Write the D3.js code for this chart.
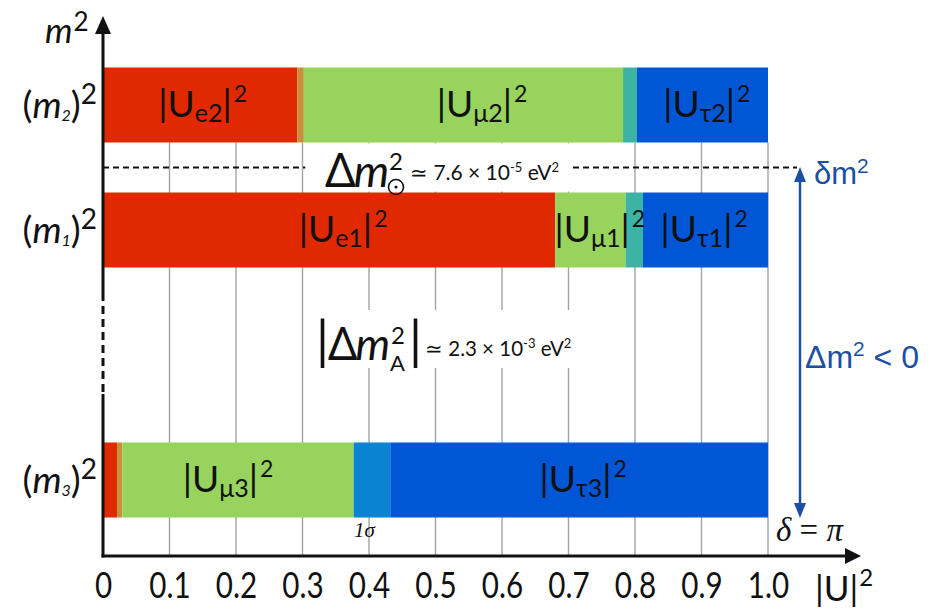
<!DOCTYPE html>
<html><head><meta charset="utf-8">
<script src="https://cdn.jsdelivr.net/npm/d3@7"></script>
<style>body{margin:0;background:#fff}svg{display:block}</style>
</head><body><svg id="c" width="933" height="612"></svg>
<script>
// ---------- data ----------
const tickValues = [0,0.1,0.2,0.3,0.4,0.5,0.6,0.7,0.8,0.9,1.0];
const tickLabels = ["0","0.1","0.2","0.3","0.4","0.5","0.6","0.7","0.8","0.9","1.0"];
const states = ["m2","m1","m3"];
const stateIndex = ["2","1","3"];
const massLevel = [3, 2, 0];               // schematic m^2 ordering (inverted hierarchy)
const segKeys = ["e","e-mu","mu","mu-tau","tau"];
const widths_m2 = [0.292, 0.010, 0.480, 0.021, 0.197];
const widths_m1 = [0.680, 0.000, 0.106, 0.026, 0.188];
const widths_m3 = [0.021, 0.008, 0.348, 0.055, 0.568];
const labelFlavour = ["e","μ","τ","e","μ","τ","μ","τ"];
const labelState   = [0,0,0,1,1,1,2,2];
const labelAt      = [0.150,0.570,0.908,0.361,0.747,0.904,0.188,0.722];

// ---------- layout ----------
const svg = d3.select("#c");
const x = d3.scaleLinear().domain([0,1]).range([103,768]);
const y = d3.scaleLinear().domain([0,3]).range([480,105]);
const halfBar = 0.3;
const axisY = 556;
const ink = "#111";
const colors = {"e":"#e02900","e-mu":"#c6913b","mu":"#98d35d","mu-tau":"#3db3a5","tau":"#0056d5"};
const m3Band = "#0b83d3";
const FONT = "Lato, 'Noto Sans', sans-serif";
const GREEK = "'Noto Sans', sans-serif";

// gridlines
svg.append("g").selectAll("line").data(tickValues.slice(1)).join("line")
  .attr("x1",d=>x(d)).attr("x2",d=>x(d))
  .attr("y1",y(massLevel[0]-halfBar)).attr("y2",axisY)
  .attr("stroke","#a3a3a3").attr("stroke-width",1.4);

// dashed solar splitting line
const ySol = y((massLevel[0]+massLevel[1])/2);
svg.append("line").attr("x1",x(0)).attr("x2",797).attr("y1",ySol).attr("y2",ySol)
  .attr("stroke",ink).attr("stroke-width",2).attr("stroke-dasharray","6,4");

// white backgrounds behind annotations
svg.append("rect").attr("x",x(0.302)+1.5).attr("y",y(massLevel[0]-halfBar)+1)
  .attr("width",572-(x(0.302)+1.5)).attr("height",y(massLevel[1]+halfBar)-y(massLevel[0]-halfBar)-2).attr("fill","#fff");
svg.append("rect").attr("x",310).attr("y",310).attr("width",290).attr("height",58).attr("fill","#fff");

// bars
const allWidths = [widths_m2, widths_m1, widths_m3];
states.forEach((s,i)=>{
  const ends = d3.cumsum(allWidths[i]);
  const segs = allWidths[i].map((w,k)=>({k:segKeys[k], x0:ends[k]-w, x1:ends[k]})).filter(d=>d.x1>d.x0);
  svg.append("g").selectAll("rect").data(segs).join("rect")
    .attr("x",d=>x(d.x0)).attr("width",d=>x(d.x1)-x(d.x0))
    .attr("y",y(massLevel[i]+halfBar)).attr("height",y(massLevel[i]-halfBar)-y(massLevel[i]+halfBar))
    .attr("fill",d=>(s==="m3"&&d.k==="mu-tau")?m3Band:colors[d.k]);
});

// bar labels |U_{a i}|^2
labelAt.forEach((v,j)=>{
  const si = labelState[j];
  const t = svg.append("text").attr("x",x(v)).attr("y",y(massLevel[si])+12)
    .attr("text-anchor","middle").attr("font-family",FONT).attr("fill",ink).attr("font-size",37);
  t.append("tspan").text("|U");
  t.append("tspan").attr("font-size",25).attr("dy",5).text(labelFlavour[j]+stateIndex[si]);
  t.append("tspan").attr("dy",-5).text("|");
  t.append("tspan").attr("font-size",23).attr("dy",-15).attr("dx",2).text("2");
});

// y axis (with break)
const yAxisTop = 33, brk0 = 293, brk1 = 394;
svg.append("line").attr("x1",x(0)).attr("x2",x(0)).attr("y1",yAxisTop).attr("y2",brk0).attr("stroke",ink).attr("stroke-width",3);
svg.append("line").attr("x1",x(0)).attr("x2",x(0)).attr("y1",brk0).attr("y2",brk1).attr("stroke",ink).attr("stroke-width",3).attr("stroke-dasharray","8,5");
svg.append("line").attr("x1",x(0)).attr("x2",x(0)).attr("y1",brk1).attr("y2",axisY+1.5).attr("stroke",ink).attr("stroke-width",3);
svg.append("path").attr("d",`M${x(0)-8},${yAxisTop+1}L${x(0)},16L${x(0)+8},${yAxisTop+1}Z`).attr("fill",ink);

// x axis
svg.append("line").attr("x1",x(0)-1.5).attr("x2",846).attr("y1",axisY).attr("y2",axisY).attr("stroke",ink).attr("stroke-width",3);
svg.append("path").attr("d",`M845,${axisY-8}L861,${axisY}L845,${axisY+8}Z`).attr("fill",ink);
const xAxis = d3.axisBottom(x).tickValues(tickValues).tickFormat((d,i)=>tickLabels[i]).tickSize(0).tickPadding(0);
const gx = svg.append("g").attr("transform",`translate(0,${axisY})`).call(xAxis);
gx.select(".domain").remove();
gx.selectAll("text").attr("font-family",FONT).attr("font-size",37).attr("fill",ink)
  .attr("y",42).attr("dy",null).attr("transform","scale(0.8,1)");
// |U|^2 axis title
const ut = svg.append("text").attr("x",815).attr("y",601).attr("font-family",FONT).attr("font-size",35).attr("fill",ink);
ut.append("tspan").text("|U|");
ut.append("tspan").attr("font-size",24).attr("dy",-15).attr("dx",1).text("2");

// m^2 axis title
const mt = svg.append("text").attr("x",45).attr("y",43).attr("font-family",FONT).attr("fill",ink);
mt.append("tspan").attr("font-size",35).attr("font-style","italic").text("m");
mt.append("tspan").attr("font-size",26).attr("dy",-12).attr("dx",1).text("2");

// state labels (m_i)^2
states.forEach((s,i)=>{
  const t = svg.append("text").attr("x",97).attr("y",y(massLevel[i])+13)
    .attr("text-anchor","end").attr("font-family",FONT).attr("fill",ink).attr("font-size",37);
  t.append("tspan").text("(");
  t.append("tspan").attr("font-style","italic").text("m");
  t.append("tspan").attr("font-style","italic").attr("font-size",16).attr("dy",3).text(stateIndex[i]);
  t.append("tspan").attr("dy",-3).text(")");
  t.append("tspan").attr("font-size",28).attr("dy",-14).text("2");
});

// solar annotation
const sol = svg.append("text").attr("x",325).attr("y",187).attr("fill",ink);
sol.append("tspan").attr("font-family",GREEK).attr("font-size",48).text("Δ");
sol.append("tspan").attr("font-family",FONT).attr("font-style","italic").attr("font-size",45).attr("dx",-2).text("m");
svg.append("text").attr("x",389).attr("y",170).attr("font-family",FONT).attr("font-size",24).attr("fill",ink).text("2");
svg.append("circle").attr("cx",396).attr("cy",187).attr("r",7.5).attr("fill","none").attr("stroke",ink).attr("stroke-width",1.6);
svg.append("circle").attr("cx",396).attr("cy",187).attr("r",1.6).attr("fill",ink);
const st = svg.append("text").attr("x",410).attr("y",180).attr("font-family",FONT).attr("font-size",21).attr("fill",ink);
st.append("tspan").text("≃ 7.6 × 10");
st.append("tspan").attr("font-size",13).attr("dy",-8).text("-5");
st.append("tspan").attr("dy",8).text(" eV");
st.append("tspan").attr("font-size",13).attr("dy",-8).text("2");

// atmospheric annotation
const atm = svg.append("text").attr("x",316).attr("y",359).attr("fill",ink);
atm.append("tspan").attr("font-family",FONT).attr("font-size",52).text("|");
atm.append("tspan").attr("font-family",GREEK).attr("font-size",46).attr("dx",-1).attr("dy",1).text("Δ");
atm.append("tspan").attr("font-family",FONT).attr("font-style","italic").attr("font-size",44).attr("dx",-2).text("m");
svg.append("text").attr("x",391).attr("y",344).attr("font-family",FONT).attr("font-size",24).attr("fill",ink).text("2");
svg.append("text").attr("x",390).attr("y",371).attr("font-family",FONT).attr("font-size",22).attr("fill",ink).text("A");
svg.append("text").attr("x",409).attr("y",359).attr("font-family",FONT).attr("font-size",52).attr("fill",ink).text("|");
const at = svg.append("text").attr("x",425).attr("y",356).attr("font-family",FONT).attr("font-size",20.5).attr("fill",ink);
at.append("tspan").text("≃ 2.3 × 10");
at.append("tspan").attr("font-size",13).attr("dy",-8).text("-3");
at.append("tspan").attr("dy",8).text(" eV");
at.append("tspan").attr("font-size",13).attr("dy",-8).text("2");

// right-hand blue arrow and labels
const blue = "#1c4fa4";
svg.append("line").attr("x1",800).attr("x2",800).attr("y1",180).attr("y2",505).attr("stroke",blue).attr("stroke-width",2.5);
svg.append("path").attr("d","M794,182L800,167L806,182Z").attr("fill",blue);
svg.append("path").attr("d","M794,503L800,518L806,503Z").attr("fill",blue);
const dm = svg.append("text").attr("x",814).attr("y",184).attr("font-family","'Liberation Sans', Arial, sans-serif").attr("font-size",31).attr("fill",blue);
dm.append("tspan").text("δm");
dm.append("tspan").attr("font-size",21).attr("dy",-11).text("2");
const Dm = svg.append("text").attr("x",805).attr("y",368).attr("font-family","'Liberation Sans', Arial, sans-serif").attr("font-size",32).attr("fill",blue);
Dm.append("tspan").text("Δm");
Dm.append("tspan").attr("font-size",21).attr("dy",-12).text("2");
Dm.append("tspan").attr("dy",12).text(" < 0");

// delta = pi
const dp = svg.append("text").attr("x",776).attr("y",541).attr("font-family","'Liberation Serif', 'DejaVu Serif', serif").attr("font-size",33).attr("fill",ink);
dp.append("tspan").attr("font-style","italic").text("δ");
dp.append("tspan").text(" = ");
dp.append("tspan").attr("font-style","italic").text("π");

// 1 sigma
svg.append("text").attr("x",354).attr("y",537).attr("font-family","'Liberation Serif', 'DejaVu Serif', serif").attr("font-style","italic").attr("font-size",21).attr("fill",ink).text("1σ");
</script></body></html>
